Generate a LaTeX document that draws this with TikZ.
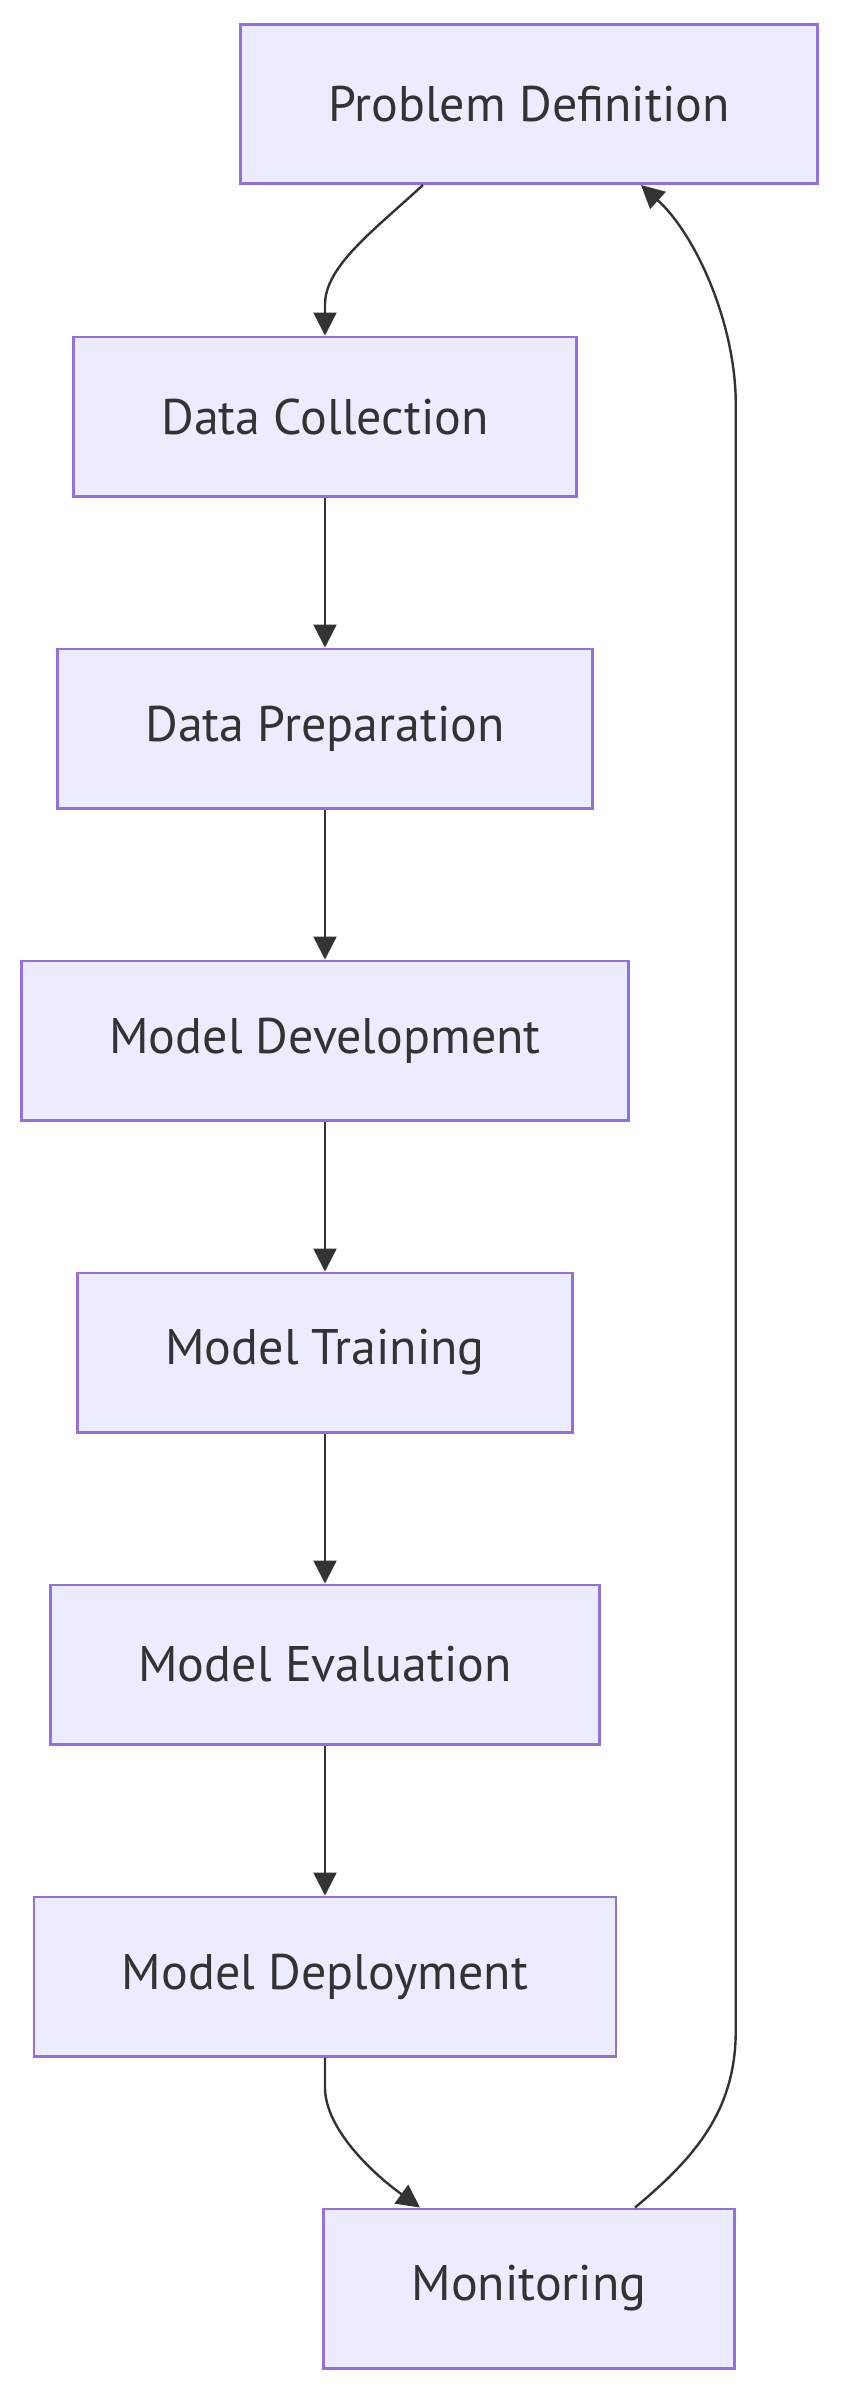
\documentclass[tikz,border=0pt]{standalone}
\usepackage{fontspec}
\setmainfont{PT Sans}
\usepackage{tikz}
\usetikzlibrary{arrows.meta,positioning}
\definecolor{Fill}{HTML}{ECECFF}
\definecolor{Edge}{HTML}{9370DB}
\definecolor{Ink}{HTML}{333333}

\begin{document}
\begin{tikzpicture}[x=1pt, y=1pt, node distance=150pt,
  stepbox/.style={draw=Edge, line width=2.6pt, fill=Fill, text=Ink, minimum height=159.4pt, inner xsep=88pt, inner ysep=0pt, font=\fontsize{50}{60}\selectfont},
  flow/.style={draw=Ink, line width=2.4pt, -{Triangle[length=23pt, width=23pt]}}]
  \useasboundingbox (0,0) rectangle (844,-2393);
  \node[stepbox] (pd) at (529,-104) {Problem Definition};
  \node[stepbox] (dc) at (325,-416.5) {Data Collection};
  \node[stepbox, below=of dc] (dp) {Data Preparation};
  \node[stepbox, below=of dp] (md) {Model Development};
  \node[stepbox, below=of md] (mt) {Model Training};
  \node[stepbox, below=of mt] (me) {Model Evaluation};
  \node[stepbox, below=of me] (mdep) {Model Deployment};
  \coordinate (monc) at (mdep.south -| pd.south);
  \node[stepbox, below=of monc] (mon) {Monitoring};
  \coordinate (rtlow) at ([yshift=177pt]mon.north east);
  \coordinate (rthigh) at (pd.south -| mon.east);
  \draw[flow] ([xshift=-106pt]pd.south) .. controls +(-50pt,-46pt) and +(0,38pt) .. ([yshift=31pt]dc.north) -- (dc.north);
  \draw[flow] (dc) -- (dp);
  \draw[flow] (dp) -- (md);
  \draw[flow] (md) -- (mt);
  \draw[flow] (mt) -- (me);
  \draw[flow] (me) -- (mdep);
  \draw[flow] (mdep.south) -- ++(0,-30pt) .. controls +(0,-40pt) and +(-50pt,36pt) .. ([xshift=-109pt]mon.north);
  \draw[flow] ([xshift=106pt]mon.north) .. controls +(60pt,50pt) and +(0,-80pt) .. (rtlow) -- ([yshift=-219pt]rthigh) .. controls +(0,80pt) and +(55pt,-50pt) .. ([xshift=112pt]pd.south);
\end{tikzpicture}
\end{document}
